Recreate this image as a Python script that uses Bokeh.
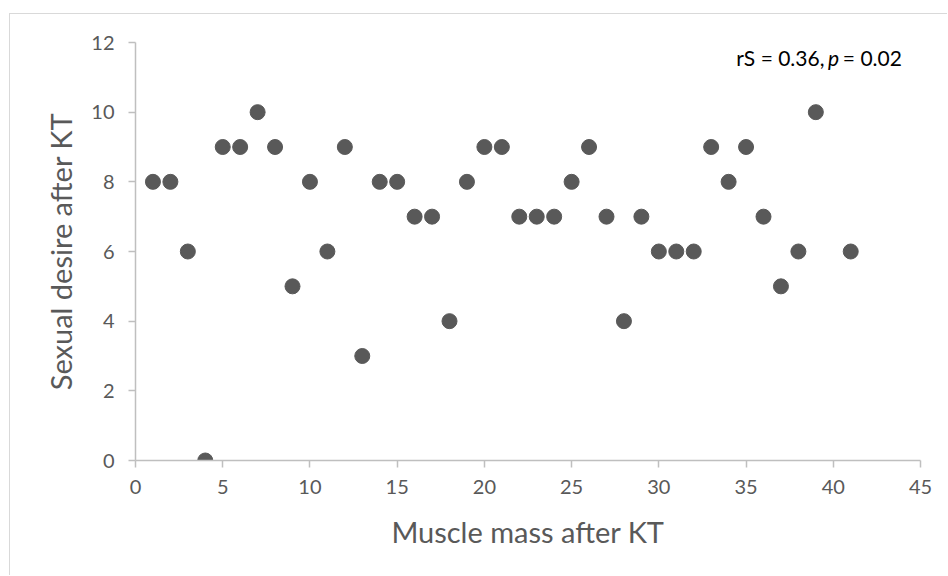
from bokeh.plotting import figure
from bokeh.models import ColumnDataSource, Label, FixedTicker, Range1d
from bokeh.embed import file_html
from bokeh.resources import INLINE

muscle_mass = [1, 2, 3, 4, 5, 6, 7, 8, 9, 10, 11, 12, 13, 14, 15, 16, 17, 18, 19, 20,
               21, 22, 23, 24, 25, 26, 27, 28, 29, 30, 31, 32, 33, 34, 35, 36, 37, 38, 39, 41]
sexual_desire = [8, 8, 6, 0, 9, 9, 10, 9, 5, 8, 6, 9, 3, 8, 8, 7, 7, 4, 8, 9,
                 9, 7, 7, 7, 8, 9, 7, 4, 7, 6, 6, 6, 9, 8, 9, 7, 5, 6, 10, 6]
x_ticks = [0, 5, 10, 15, 20, 25, 30, 35, 40, 45]
y_ticks = [0, 2, 4, 6, 8, 10, 12]

FONT = "Lato"
GREY = "#595959"
AXIS = "#bfbfbf"

src = ColumnDataSource(data=dict(x=muscle_mass, y=sexual_desire))

p = figure(width=938, height=562, output_backend="svg", toolbar_location=None,
           x_range=Range1d(0, 45), y_range=Range1d(0, 12),
           min_border_left=125, min_border_right=28, min_border_top=28, min_border_bottom=116,
           styles={"margin-left": "9px", "margin-top": "13px",
                   "border-left": "1px solid #d9d9d9", "border-top": "1px solid #d9d9d9"})
p.outline_line_color = None
p.grid.grid_line_color = None
p.background_fill_color = "white"
p.border_fill_color = "white"

p.scatter("x", "y", source=src, size=15, fill_color="#595959", line_color="#595959")

for ax in (p.xaxis[0], p.yaxis[0]):
    ax.axis_line_color = AXIS
    ax.axis_line_width = 1.5
    ax.major_tick_line_color = AXIS
    ax.major_tick_line_width = 1.5
    ax.major_tick_out = 7
    ax.major_tick_in = 0
    ax.minor_tick_line_color = None
    ax.major_label_text_font = FONT
    ax.major_label_text_font_size = "20px"
    ax.major_label_text_color = GREY
    ax.axis_label_text_font = FONT
    ax.axis_label_text_font_size = "29px"
    ax.axis_label_text_font_style = "normal"
    ax.axis_label_text_color = GREY

p.xaxis.ticker = FixedTicker(ticks=x_ticks)
p.yaxis.ticker = FixedTicker(ticks=y_ticks)
p.xaxis.axis_label = "Muscle mass after KT"
p.yaxis.axis_label = "Sexual desire after KT"
p.xaxis.major_label_standoff = 12
p.yaxis.major_label_standoff = 14
p.xaxis.axis_label_standoff = 17
p.yaxis.axis_label_standoff = 10

common = dict(y=11.58, text_font=FONT, text_font_size="21px", text_color="black",
              text_align="left", text_baseline="alphabetic")
p.add_layout(Label(x=34.44, text="rS = 0.36,", **common))
p.add_layout(Label(x=39.70, text="p", text_font_style="italic", **common))
p.add_layout(Label(x=40.55, text="= 0.02", **common))

open("out.html", "w").write(file_html(p, INLINE))
